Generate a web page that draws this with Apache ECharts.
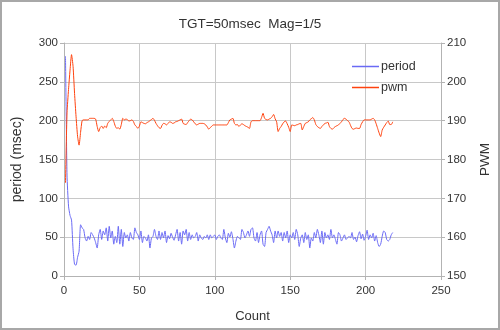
<!DOCTYPE html>
<html><head><meta charset="utf-8">
<script src="https://cdn.jsdelivr.net/npm/echarts@6/dist/echarts.min.js"></script>
<style>
html,body{margin:0;padding:0;background:#fff;}
#frame{position:absolute;left:0;top:0;width:500px;height:330px;box-sizing:border-box;border:2px solid #a8a8a8;background:#fff;}
#chart{position:absolute;left:0;top:0;width:500px;height:330px;}
</style></head>
<body>
<div id="frame"></div>
<div id="chart"></div>
<script>
const titleText = "TGT=50msec  Mag=1/5";
const seriesNames = ["period", "pwm"];
const xTicks = [0, 50, 100, 150, 200, 250];
const leftTicks = [0, 50, 100, 150, 200, 250, 300];
const rightTicks = [150, 160, 170, 180, 190, 200, 210];

const period = [
283,130,90,78,72,35,15,14,24,32,66,62,
60,49,45,51,47,56,53,49,43,36,
53,60,47,58,53,62,45,64,49,58,
41,51,43,64,41,60,38,56,49,53,
45,56,49,47,62,56,53,47,58,43,
51,49,45,53,36,49,51,60,51,47,
58,47,56,49,58,43,52,48,55,50,46,
53,60,45,56,41,58,53,60,45,56,
47,53,49,51,56,45,53,49,47,51,
49,53,47,53,49,51,53,47,51,53,
49,47,60,49,43,55,50,57,48,
36,45,51,49,47,60,56,49,53,58,
51,60,62,49,45,56,43,53,58,41,
38,56,60,64,58,53,43,58,49,58,
51,56,45,56,49,58,43,53,49,56,
47,60,53,38,49,53,43,56,47,53,
36,49,45,56,49,60,53,43,58,41,
56,49,53,47,60,49,53,47,41,56,
53,45,49,53,47,49,51,49,56,47,
50,44,52,57,48,54,46,51,59,47,53,49,55,45,52,
43,38,41,51,58,56,47,45,47,53,56
];

const pwm = [
174,192,198,203,207,204,197,191,186,183.7,
187,190,190.2,190.2,190.2,190.2,190.6,190.6,190.6,190.6,
190.4,188.5,187.2,188.2,188.6,188,188.6,188.2,189.3,189.8,
190.2,190.6,189.8,188.6,188,188.2,187.8,189,190.6,190.2,
190.4,190.3,189.9,190,190.2,189.8,188.9,188.5,188,188.6,
189.7,189.5,189.3,189.2,189.5,189.7,190,190.3,190.6,190.1,
189.3,188.7,188.2,188,188.8,189.3,189.2,188.9,189.3,189.7,
189.6,189.3,189.4,189.7,189.8,190,190.2,190.4,189.3,189.1,
189,189.5,190,190.4,190.2,189.7,189.2,188.9,189.1,189.3,
189.3,189.3,189.2,188.9,188.4,187.8,188.2,188.6,188.9,188.9,
188.9,188.9,188.9,188.9,188.9,188.9,188.9,188.9,189.5,190.2,
190.4,190.6,189.3,188.9,189,188.5,188.9,189.2,189,188.7,
188.5,188.3,188,189.7,190,190,190,190,190,190,
190.8,191.9,190.6,190.3,190.2,190.4,190.6,191,191.6,190.5,
189.7,187.2,188,188.5,189.2,189.7,189.9,189.2,188.3,187.2,
188.9,188.8,188.7,188.9,189,189.2,189.3,187.6,188.5,189.3,
189.5,189.7,190.2,190.5,190.8,190.2,189,188.5,188.2,188,
188.5,188.9,189.3,189.4,189.6,188.5,188,187.8,188.2,188.5,
188.7,188.9,189.3,189.7,190.3,190.6,190.4,190,189.7,188.8,
188,187.8,188,188.1,188,188,189,189.7,190.2,190.2,
190.2,190.2,190.2,190.4,190.6,190.2,189.2,188,186.8,185.9,
187.6,188.3,188.9,189.5,189.9,189,189,189.7
];

const periodData = period.map((v, i) => [i + 1, v]);
const pwmData = pwm.map((v, i) => [i + 1, v]);

const FONT = "Liberation Sans";
const gridColor = "#c8c8c8";
const axisColor = "#b3b3b3";
const txt = "#333333";

const chart = echarts.init(document.getElementById("chart"), null, {renderer: "canvas"});
chart.setOption({
  animation: false,
  backgroundColor: "transparent",
  textStyle: {fontFamily: FONT},
  title: {
    text: titleText, left: "center", top: 12,
    textStyle: {fontFamily: FONT, fontSize: 13.5, fontWeight: "normal", color: txt}
  },
  legend: {
    orient: "vertical", left: 347, top: 55,
    itemWidth: 27, itemHeight: 1.5, itemGap: 8,
    icon: "rect",
    data: seriesNames,
    textStyle: {fontFamily: FONT, fontSize: 12.5, color: txt, padding: [0,0,0,-3]}
  },
  grid: {left: 64, right: 59, top: 43, bottom: 54, containLabel: false},
  xAxis: {
    type: "value", min: xTicks[0], max: xTicks[xTicks.length-1], interval: 50,
    name: "Count", nameLocation: "middle", nameGap: 34,
    nameTextStyle: {fontFamily: FONT, fontSize: 13, color: txt},
    axisLine: {show: true, lineStyle: {color: axisColor}},
    axisTick: {show: true, length: 4, lineStyle: {color: axisColor}},
    axisLabel: {fontFamily: FONT, fontSize: 11.5, color: txt, margin: 9},
    splitLine: {show: true, lineStyle: {color: gridColor}}
  },
  yAxis: [{
    type: "value", min: leftTicks[0], max: leftTicks[leftTicks.length-1], interval: 50,
    name: "period (msec)", nameLocation: "middle", nameGap: 40, nameRotate: 90,
    nameTextStyle: {fontFamily: FONT, fontSize: 14, color: txt},
    axisLine: {show: true, lineStyle: {color: axisColor}},
    axisTick: {show: true, length: 4, lineStyle: {color: axisColor}},
    axisLabel: {fontFamily: FONT, fontSize: 11.5, color: txt, margin: 6},
    splitLine: {show: true, lineStyle: {color: gridColor}}
  }, {
    type: "value", position: "right", min: rightTicks[0], max: rightTicks[rightTicks.length-1], interval: 10,
    name: "PWM", nameLocation: "middle", nameGap: 37, nameRotate: 90,
    nameTextStyle: {fontFamily: FONT, fontSize: 13.5, color: txt},
    axisLine: {show: true, lineStyle: {color: axisColor}},
    axisTick: {show: true, length: 4, lineStyle: {color: axisColor}},
    axisLabel: {fontFamily: FONT, fontSize: 11.5, color: txt, margin: 6},
    splitLine: {show: false}
  }],
  series: [{
    name: seriesNames[0], type: "line", yAxisIndex: 0, data: periodData,
    symbol: "none", smooth: 0.2,
    lineStyle: {color: "#6a6af5", width: 1},
    itemStyle: {color: "#6a6af5"}
  }, {
    name: seriesNames[1], type: "line", yAxisIndex: 1, data: pwmData,
    symbol: "none", smooth: 0.2,
    lineStyle: {color: "#ff420e", width: 1},
    itemStyle: {color: "#ff420e"}
  }]
});
</script>
</body></html>
